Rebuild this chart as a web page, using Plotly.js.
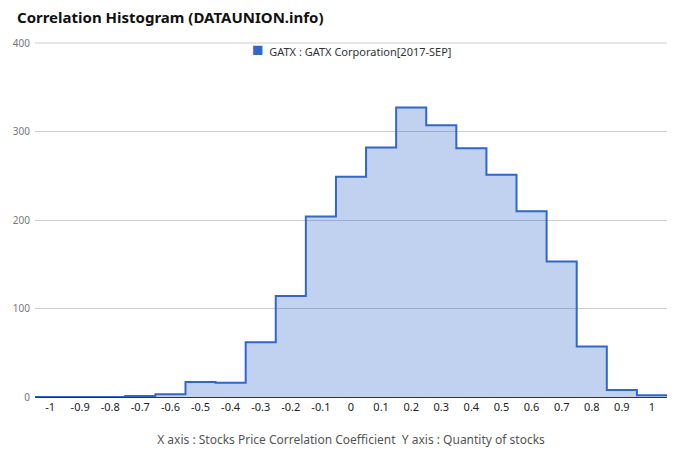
<!DOCTYPE html>
<html>
<head>
<meta charset="utf-8">
<script src="https://cdn.plot.ly/plotly-3.0.1.min.js"></script>
<style>html,body{margin:0;padding:0;background:#fff}#chart{width:680px;height:462px}</style>
</head>
<body>
<div id="chart"></div>
<script>
var binCenters = [-1, -0.9, -0.8, -0.7, -0.6, -0.5, -0.4, -0.3, -0.2, -0.1, 0, 0.1, 0.2, 0.3, 0.4, 0.5, 0.6, 0.7, 0.8, 0.9, 1];
var counts = [0, 0, 0, 1, 3, 17, 16, 62, 114, 204, 249, 282, 327, 307, 281, 251, 210, 153, 57, 8, 2];
var xTickVals = [-1, -0.9, -0.8, -0.7, -0.6, -0.5, -0.4, -0.3, -0.2, -0.1, 0, 0.1, 0.2, 0.3, 0.4, 0.5, 0.6, 0.7, 0.8, 0.9, 1];
var xTickText = ['-1', '-0.9', '-0.8', '-0.7', '-0.6', '-0.5', '-0.4', '-0.3', '-0.2', '-0.1', '0', '0.1', '0.2', '0.3', '0.4', '0.5', '0.6', '0.7', '0.8', '0.9', '1'];
var yTickVals = [0, 100, 200, 300, 400];
var seriesName = 'GATX : GATX Corporation[2017-SEP]';

var half = 0.05;
var xs = binCenters.map(function(c){ return c - half; });
xs.push(binCenters[binCenters.length-1] + half);
var ys = counts.slice();
ys.push(counts[counts.length-1]);

var trace = {
  x: xs, y: ys, type: 'scatter', mode: 'lines',
  line: {shape: 'hv', color: '#3366cc', width: 2},
  fill: 'tozeroy', fillcolor: 'rgba(51,102,204,0.3)',
  name: seriesName, showlegend: false, hoverinfo: 'skip'
};

var layout = {
  width: 680, height: 462,
  margin: {l: 35, r: 13, t: 43, b: 65},
  paper_bgcolor: '#fff', plot_bgcolor: '#fff',
  font: {family: 'Noto Sans, Arial, sans-serif'},
  title: {text: '<b>Correlation Histogram (DATAUNION.info)</b>', x: 0.025, xanchor: 'left', y: 0.962, yanchor: 'middle',
          font: {size: 15, color: '#111', family: 'Noto Sans, Arial, sans-serif'}},
  xaxis: {range: [-1.05, 1.05], tickmode: 'array', tickvals: xTickVals, ticktext: xTickText,
          showgrid: false, zeroline: false, showline: false, ticks: '',
          tickfont: {size: 11, color: '#222'}, ticklabelstandoff: 2,
          title: {text: 'X axis : Stocks Price Correlation Coefficient&nbsp;&nbsp;Y axis : Quantity of stocks',
                  font: {size: 12, color: '#555'}, standoff: 22}},
  yaxis: {range: [0, 400], tickvals: yTickVals, showgrid: true, gridcolor: '#cccccc',
          zeroline: true, zerolinecolor: '#333', zerolinewidth: 1, showline: false,
          tickfont: {size: 10, color: '#777'}, ticks: '', ticklen: 0, ticklabelstandoff: 4},
  shapes: [{type: 'line', xref: 'paper', yref: 'paper', x0: 0, x1: 1, y0: 1, y1: 1,
            line: {color: '#cccccc', width: 1}, layer: 'below'}],
  annotations: [{
    xref: 'paper', yref: 'paper', x: 0.5, y: 0.983, xanchor: 'center', yanchor: 'middle',
    text: '<span style="color:#3366cc;font-size:19px">■</span>&nbsp;&nbsp;' + seriesName,
    showarrow: false, font: {size: 11, color: '#333'}
  }],
  showlegend: false
};

Plotly.newPlot('chart', [trace], layout, {displayModeBar: false, staticPlot: true});
</script>
</body>
</html>
